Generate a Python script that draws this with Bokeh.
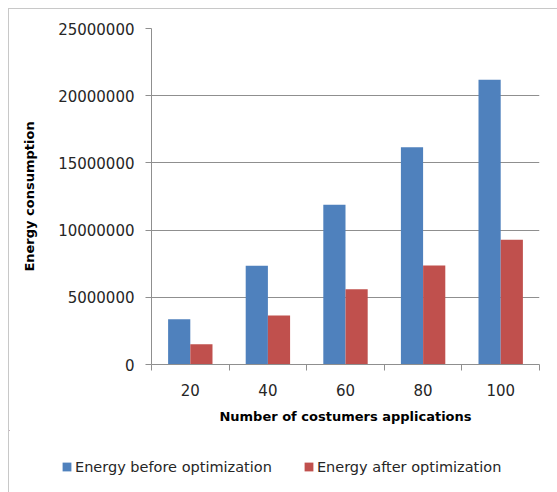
from bokeh.plotting import figure
from bokeh.models import ColumnDataSource, FixedTicker, Legend, LegendItem, NumeralTickFormatter
from bokeh.embed import file_html
from bokeh.resources import INLINE

# ---- data ----
categories = ["20", "40", "60", "80", "100"]
before = [3370000, 7340000, 11880000, 16170000, 21180000]
after = [1510000, 3650000, 5600000, 7370000, 9280000]
y_ticks = [0, 5000000, 10000000, 15000000, 20000000, 25000000]
series_names = ["Energy before optimization", "Energy after optimization"]
x_title = "Number of costumers applications"
y_title = "Energy consumption"

colors = ["#4F81BD", "#C0504D"]
grid_color = "#8f8f8f"
border_css = "1px solid #c8c8c8"
FONT = "DejaVu Sans"

n = len(categories)
bar_w = 0.286
idx = list(range(n))
src = ColumnDataSource(dict(
    xb=[i + 0.5 - bar_w / 2 for i in idx],
    xa=[i + 0.5 + bar_w / 2 for i in idx],
    before=before,
    after=after,
))

W = 549
H1 = 422
H2 = 62

p = figure(width=W, height=H1, x_range=(0, n), y_range=(y_ticks[0], y_ticks[-1]),
           output_backend="svg", toolbar_location=None,
           min_border_left=142, min_border_right=19, min_border_top=19, min_border_bottom=67,
           margin=(8, 0, 0, 8))
p.styles = {"border-left": border_css, "border-top": border_css}
p.outline_line_color = None
p.background_fill_color = "white"
p.border_fill_color = "white"

r1 = p.vbar(x="xb", top="before", width=bar_w, source=src, fill_color=colors[0], line_color=None)
r2 = p.vbar(x="xa", top="after", width=bar_w, source=src, fill_color=colors[1], line_color=None)

# x axis
xa = p.xaxis[0]
xa.ticker = FixedTicker(ticks=[i + 0.5 for i in idx], minor_ticks=list(range(n + 1)))
xa.major_label_overrides = {i + 0.5: c for i, c in zip(idx, categories)}
xa.major_tick_out = 0
xa.major_tick_in = 0
xa.minor_tick_out = 6
xa.minor_tick_in = 0
xa.minor_tick_line_color = grid_color
xa.axis_line_color = grid_color
xa.major_label_text_font = FONT
xa.major_label_text_font_size = "15px"
xa.major_label_text_color = "#262626"
xa.major_label_standoff = 13
xa.axis_label = x_title
xa.axis_label_text_font = FONT
xa.axis_label_text_font_style = "bold"
xa.axis_label_text_font_size = "13px"
xa.axis_label_text_color = "black"
xa.axis_label_standoff = 10

# y axis
ya = p.yaxis[0]
ya.ticker = FixedTicker(ticks=y_ticks)
ya.formatter = NumeralTickFormatter(format="0")
ya.major_tick_out = 6
ya.major_tick_in = 0
ya.minor_tick_line_color = None
ya.major_tick_line_color = grid_color
ya.axis_line_color = grid_color
ya.major_label_text_font = FONT
ya.major_label_text_font_size = "15px"
ya.major_label_text_color = "#262626"
ya.major_label_standoff = 11
ya.axis_label = y_title
ya.axis_label_text_font = FONT
ya.axis_label_text_font_style = "bold"
ya.axis_label_text_font_size = "13px"
ya.axis_label_text_color = "black"
ya.axis_label_standoff = 18

p.xgrid.visible = False
p.ygrid.grid_line_color = grid_color
p.ygrid.grid_line_width = 1

# ---- legend strip: a second root figure (not clipped to the chart frame) ----
# its renderers use the same data, but its ranges keep the bars far out of view
pl = figure(width=W, height=H2, x_range=(1000, 1001), y_range=(-2e9, -1e9),
            output_backend="svg", toolbar_location=None,
            x_axis_type=None, y_axis_type=None,
            min_border_left=0, min_border_right=0, min_border_top=0, min_border_bottom=0,
            margin=(0, 0, 0, 8))
pl.styles = {"border-left": border_css}
pl.outline_line_color = None
pl.xgrid.visible = False
pl.ygrid.visible = False
lr1 = pl.vbar(x="xb", top="before", width=bar_w, source=src, fill_color=colors[0], line_color=None)
lr2 = pl.vbar(x="xa", top="after", width=bar_w, source=src, fill_color=colors[1], line_color=None)

legend = Legend(items=[LegendItem(label=series_names[0], renderers=[lr1]),
                       LegendItem(label=series_names[1], renderers=[lr2])],
                orientation="horizontal", location=(52, 17),
                padding=0, margin=0, spacing=31,
                glyph_width=11, glyph_height=11, label_standoff=3, label_height=17,
                label_text_font=FONT, label_text_font_size="14.5px", label_text_color="#262626",
                border_line_alpha=0, background_fill_alpha=0)
pl.add_layout(legend)

open("out.html", "w").write(file_html([p, pl], INLINE))
